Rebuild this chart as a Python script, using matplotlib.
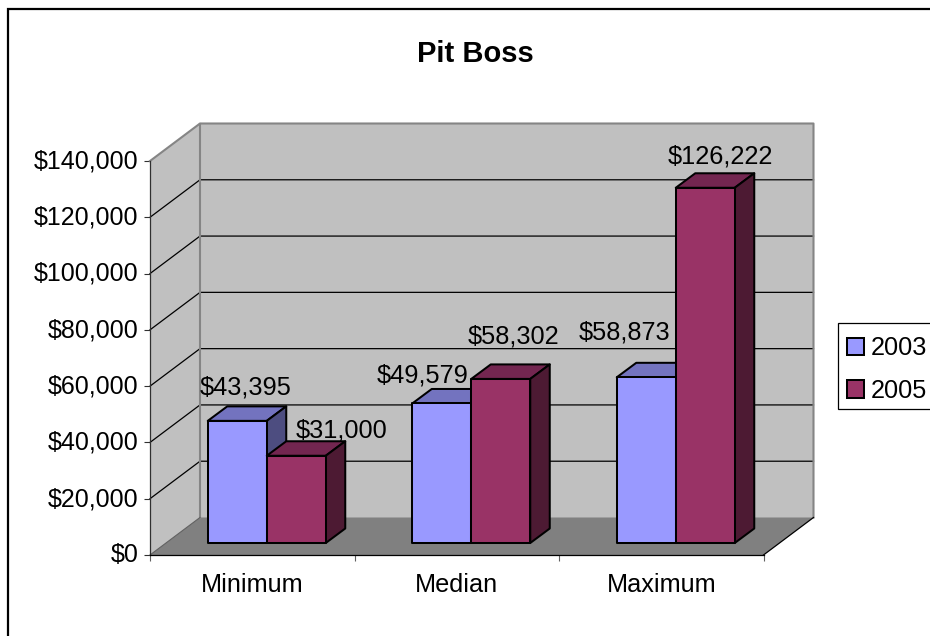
"""Pit Boss salary chart, Excel-style 3D clustered columns."""
import matplotlib
matplotlib.use("Agg")
import matplotlib.pyplot as plt
from matplotlib.patches import Polygon, Rectangle
from matplotlib.transforms import ScaledTranslation

categories = ["Minimum", "Median", "Maximum"]
years = ["2003", "2005"]
values_2003 = [43395, 49579, 58873]
values_2005 = [31000, 58302, 126222]
y_ticks = [0, 20000, 40000, 60000, 80000, 100000, 120000, 140000]

FRONT, TOP, SIDE = {}, {}, {}
FRONT["2003"], TOP["2003"], SIDE["2003"] = "#9999FF", "#7373BF", "#4D4D80"
FRONT["2005"], TOP["2005"], SIDE["2005"] = "#993366", "#732650", "#4D1A33"
WALL, FLOOR, EDGE = "#C0C0C0", "#808080", "#858585"

W, H = 930, 636
plt.rcParams.update({"font.family": ["Liberation Sans", "DejaVu Sans"], "font.size": 18})

fig = plt.figure(figsize=(W / 100, H / 100), dpi=100, facecolor="white")
# front plane of the 3D box, in pixels from the top-left corner
L, R, T, B = 150, 763.5, 161, 555
ax = fig.add_axes([L / W, 1 - B / H, (R - L) / W, (B - T) / H])
ax.set_xlim(0, 3)
ax.set_ylim(0, 140000)
ax.patch.set_visible(False)

px, py = 3 / (R - L), 140000 / (B - T)  # data units per pixel
DEPTH_X, DEPTH_Y = 50 * px, 37.5 * py
BAR_W = 59 * px
BAR_X, BAR_Y = 14.5 * px, 12 * py
BAR_DX, BAR_DY = 19.5 * px, 14.5 * py


def poly(pts, fc, ec="none", lw=0.0, z=1):
    ax.add_patch(Polygon(pts, closed=True, facecolor=fc, edgecolor=ec, lw=lw, zorder=z,
                         clip_on=False, joinstyle="round"))


# walls and floor
poly([(0, 0), (DEPTH_X, DEPTH_Y), (DEPTH_X, 140000 + DEPTH_Y), (0, 140000)], WALL)
poly([(DEPTH_X, DEPTH_Y), (3 + DEPTH_X, DEPTH_Y), (3 + DEPTH_X, 140000 + DEPTH_Y),
      (DEPTH_X, 140000 + DEPTH_Y)], WALL)
poly([(0, 0), (3, 0), (3 + DEPTH_X, DEPTH_Y), (DEPTH_X, DEPTH_Y)], FLOOR)

for v in y_ticks[1:-1]:
    ax.plot([0, DEPTH_X, 3 + DEPTH_X], [v, v + DEPTH_Y, v + DEPTH_Y], color="black", lw=0.9,
            zorder=1.5, clip_on=False, solid_joinstyle="miter")
ax.plot([0, DEPTH_X, 3 + DEPTH_X, 3 + DEPTH_X], [140000, 140000 + DEPTH_Y, 140000 + DEPTH_Y, DEPTH_Y],
        color=EDGE, lw=1.5, zorder=1.6, clip_on=False)
ax.plot([DEPTH_X, DEPTH_X], [DEPTH_Y, 140000 + DEPTH_Y], color=EDGE, lw=1.5, zorder=1.6, clip_on=False)
ax.plot([DEPTH_X, 0], [DEPTH_Y, 0], color="#606060", lw=0.8, zorder=1.6, clip_on=False)
ax.plot([3, 3 + DEPTH_X], [0, DEPTH_Y], color="black", lw=0.9, zorder=1.6, clip_on=False)

# columns, back to front, left to right
group_left = [0.0, 1.0, 2.0]
for i, cat in enumerate(categories):
    for j, (yr, vals) in enumerate(zip(years, (values_2003, values_2005))):
        x0 = group_left[i] + 0.5 - BAR_W + BAR_X + j * BAR_W
        x1 = x0 + BAR_W
        y0, y1 = BAR_Y, BAR_Y + vals[i]
        kw = dict(ec="black", lw=1.45, z=3 + i + j * 0.1)
        poly([(x0, y1), (x1, y1), (x1 + BAR_DX, y1 + BAR_DY), (x0 + BAR_DX, y1 + BAR_DY)], TOP[yr], **kw)
        poly([(x1, y0), (x1 + BAR_DX, y0 + BAR_DY), (x1 + BAR_DX, y1 + BAR_DY), (x1, y1)], SIDE[yr], **kw)
        poly([(x0, y0), (x1, y0), (x1, y1), (x0, y1)], FRONT[yr], **kw)

# data labels were dragged by hand in the original, offsets are (px right, px up) from bar top centre
label_offsets = {"2003": [(8, 33), (-19, 28), (-22, 45)], "2005": [(45, 25), (13, 42), (15, 31)]}
for j, (yr, vals) in enumerate(zip(years, (values_2003, values_2005))):
    for i, v in enumerate(vals):
        xc = group_left[i] + 0.5 - BAR_W + BAR_X + (j + 0.5) * BAR_W
        ox, oy = label_offsets[yr][i]
        ax.annotate(f"${v:,}", xy=(xc, BAR_Y + v), xytext=(ox * 0.72, oy * 0.72),
                    textcoords="offset points", ha="center", va="center", fontsize=18.3,
                    color="black", zorder=20, annotation_clip=False)

# axes
for s in ("top", "right"):
    ax.spines[s].set_visible(False)
ax.spines["left"].set_color("#303030")
ax.spines["bottom"].set_color("black")
ax.spines["left"].set_linewidth(0.9)
ax.spines["bottom"].set_linewidth(0.9)
ax.set_yticks(y_ticks)
ax.set_yticklabels([f"${v:,}" for v in y_ticks])
ax.tick_params(axis="y", length=4.3, width=0.8, pad=4, color="#303030", labelsize=18)
up = ScaledTranslation(0, 1.5 / 72, fig.dpi_scale_trans)
for lab in ax.get_yticklabels():
    lab.set_transform(lab.get_transform() + up)
ax.set_xticks([0, 1, 2, 3])
ax.set_xticklabels([])
ax.tick_params(axis="x", which="major", length=4.3, width=0.8, color="#606060")
ax.set_xticks([0.5, 1.5, 2.5], minor=True)
ax.set_xticklabels(categories, minor=True)
ax.tick_params(axis="x", which="minor", length=0, pad=13, labelsize=18.2)

fig.text(475.5 / W, 1 - 53.5 / H, "Pit Boss", ha="center", va="center", fontsize=21, fontweight="bold")

# outer chart frame, right and bottom sides run off the image
fig.add_artist(Rectangle((8 / W, -0.02), 1.0, 1 - 9 / H + 0.02, transform=fig.transFigure,
                         facecolor="none", edgecolor="black", lw=1.6))

# legend box is drawn apart so the entries can sit a little low in it, as in the original
fig.add_artist(Rectangle((837.5 / W, 1 - 409 / H), 0.2, 86 / H, transform=fig.transFigure,
                         facecolor="white", edgecolor="black", lw=0.9))
handles = [Rectangle((0, 0), 1, 1, facecolor=FRONT[y], edgecolor="black", lw=1.45) for y in years]
leg = fig.legend(handles, years, loc="upper left", bbox_to_anchor=(837 / W, 1 - 326.5 / H),
                 borderaxespad=0, borderpad=0.38, handlelength=0.68, handleheight=0.68,
                 handletextpad=0.26, labelspacing=0.74, fontsize=18.2, frameon=False)
leg.set_zorder(5)

fig.savefig("out.png", dpi=100)
